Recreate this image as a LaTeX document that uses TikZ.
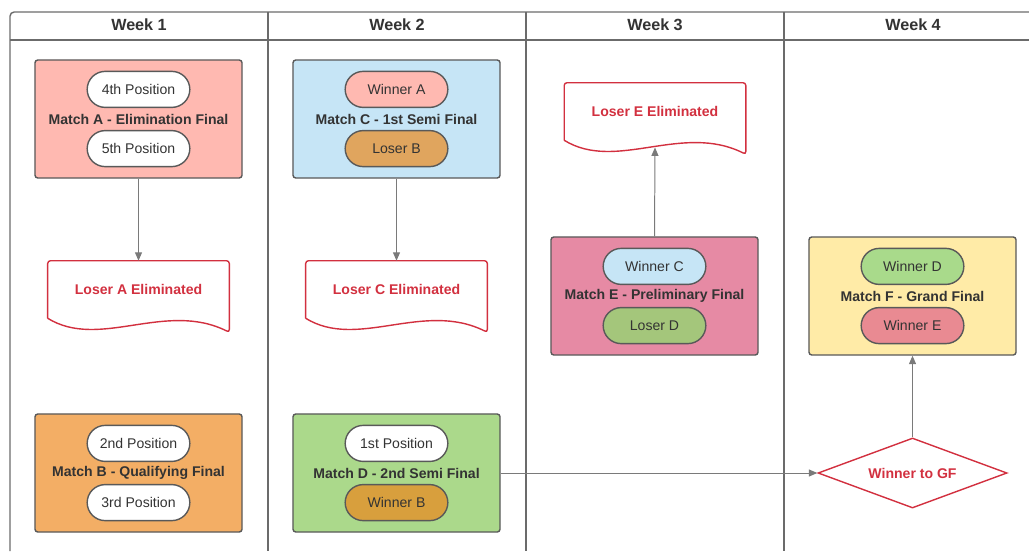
\documentclass[tikz,border=0pt]{standalone}
\usepackage{fontspec}
\setmainfont{Liberation Sans}
\usepackage{xcolor}
\usetikzlibrary{shapes.geometric}
\usetikzlibrary{shapes.misc}
\usetikzlibrary{arrows.meta}

\definecolor{txtgray}{HTML}{333333}
\definecolor{linegray}{HTML}{595959}
\definecolor{gridgray}{HTML}{6B6B6B}
\definecolor{arrowgray}{HTML}{7A7A7A}
\definecolor{lossred}{HTML}{D2303F}
\definecolor{fillA}{HTML}{FFB9B1}
\definecolor{fillB}{HTML}{F3AE65}
\definecolor{fillC}{HTML}{C6E5F6}
\definecolor{fillD}{HTML}{ABD98B}
\definecolor{fillE}{HTML}{E68AA4}
\definecolor{fillF}{HTML}{FFEBA7}
\definecolor{loseB}{HTML}{E0A55E}
\definecolor{winB}{HTML}{D89F3D}
\definecolor{loseD}{HTML}{A4C67B}
\definecolor{winD}{HTML}{A9DA8B}
\definecolor{winE}{HTML}{E98A92}

\begin{document}
\begin{tikzpicture}[x=0.025cm, y=-0.025cm,
    weekhead/.style={font=\fontsize{11.5}{14}\selectfont\bfseries, text=txtgray},
    match/.style={draw=linegray, line width=1pt, rounded corners=2pt, minimum width=5.175cm,
        minimum height=2.95cm, font=\bfseries, text=txtgray},
    pill/.style={rounded rectangle, draw=linegray, line width=1pt, fill=white,
        minimum width=2.8cm, minimum height=0.9cm, text=txtgray},
    doc/.style={minimum width=4.525cm, minimum height=1.425cm, font=\bfseries, text=lossred},
    docline/.style={draw=lossred, line width=1pt, rounded corners=2pt},
    flow/.style={draw=arrowgray, line width=0.7pt, -{Triangle[length=6pt,width=5pt]}}]
        \useasboundingbox (0,0) rectangle (1029,551);
        % swimlane frame
        \draw[gridgray, line width=1pt, rounded corners=3pt] (10,551) -- (10,12) -- (1029,12);
        \draw[gridgray, line width=1pt] (10,40) -- (1029,40);
        \foreach \x in {268,526,784}
            \draw[gridgray, line width=1pt] (\x,12) -- (\x,551);
        \foreach \i/\x in {1/139,2/397,3/655,4/913}
            \node[weekhead] (wk\i) at (\x,25) {Week \i};

        % matches
        \node[match, fill=fillA] (mA) at (138.5,119) {Match A - Elimination Final};
        \node[pill] (mA1) at ([yshift=0.74cm]mA.center) {4th Position};
        \node[pill] (mA2) at ([yshift=-0.74cm]mA.center) {5th Position};

        \node[match, fill=fillB] (mB) at (138.5,473) {Match B - Qualifying Final};
        \node[pill] (mB1) at ([yshift=0.74cm]mB.center) {2nd Position};
        \node[pill] (mB2) at ([yshift=-0.74cm]mB.center) {3rd Position};

        \node[match, fill=fillC] (mC) at (396.5,119) {Match C - 1st Semi Final};
        \node[pill, fill=fillA] (mC1) at ([yshift=0.74cm]mC.center) {Winner A};
        \node[pill, fill=loseB] (mC2) at ([yshift=-0.74cm]mC.center) {Loser B};

        \node[match, fill=fillD] (mD) at (396.5,473) {Match D - 2nd Semi Final};
        \node[pill] (mD1) at ([yshift=0.74cm]mD.center) {1st Position};
        \node[pill, fill=winB] (mD2) at ([yshift=-0.74cm]mD.center) {Winner B};

        \node[match, fill=fillE] (mE) at (654.5,296) {Match E - Preliminary Final};
        \node[pill, fill=fillC] (mE1) at ([yshift=0.74cm]mE.center) {Winner C};
        \node[pill, fill=loseD] (mE2) at ([yshift=-0.74cm]mE.center) {Loser D};

        \node[match, fill=fillF] (mF) at (912.5,296) {Match F - Grand Final};
        \node[pill, fill=winD] (mF1) at ([yshift=0.74cm]mF.center) {Winner D};
        \node[pill, fill=winE] (mF2) at ([yshift=-0.74cm]mF.center) {Winner E};

        % eliminations
        \node[doc] (lossA) at (138.5,289.5) {Loser A Eliminated};
        \node[doc] (lossC) at (396.5,289.5) {Loser C Eliminated};
        \node[doc] (lossE) at (655,111.5) {Loser E Eliminated};
        \foreach \n in {lossA,lossC,lossE}
            \draw[docline] (\n.south west) -- (\n.north west) -- (\n.north east)
                -- ([yshift=-0.35cm]\n.south east)
                .. controls +(-1.6cm,0.8cm) and +(1.3cm,-0.8cm) .. (\n.south west);

        \node[diamond, draw=lossred, line width=1pt, aspect=2.7, inner sep=0pt,
            minimum width=4.725cm, minimum height=1.75cm, font=\bfseries, text=lossred]
            (toGF) at (912.5,473) {Winner to GF};

        % connectors
        \draw[flow] (mA.south) -- (lossA.north);
        \draw[flow] (mC.south) -- (lossC.north);
        \draw[flow] (mE.north) -- ([yshift=-0.18cm]lossE.south);
        \draw[flow] (mD.east) -- (toGF.west);
        \draw[flow] (toGF.north) -- (mF.south);
    \end{tikzpicture}
\end{document}
